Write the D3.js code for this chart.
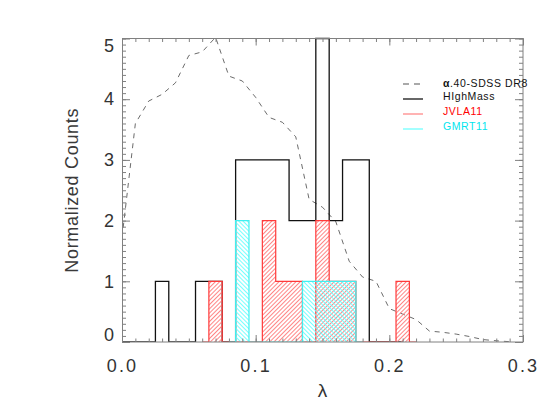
<!DOCTYPE html>
<html><head><meta charset="utf-8">
<script src="https://cdn.jsdelivr.net/npm/d3@7"></script>
<style>
html,body{margin:0;padding:0;background:#fff;}
svg{display:block;}
text{font-family:"Liberation Sans",Arial,sans-serif;}
</style></head>
<body>
<script>
// ---- data ----
const xTickValues = [0.0, 0.1, 0.2, 0.3];
const xTickLabels = ["0.0", "0.1", "0.2", "0.3"];
const yTickValues = [0, 1, 2, 3, 4, 5];
const yTickLabels = ["0", "1", "2", "3", "4", "5"];

const hmCenters = [0.00,0.01,0.02,0.03,0.04,0.05,0.06,0.07,0.08,0.09,0.10,0.11,0.12,0.13,0.14,0.15,0.16,0.17,0.18,0.19,0.20,0.21];
const hmCounts  = [0,0,0,1,0,0,1,1,0,3,3,3,3,2,2,5,2,3,3,0,0,0];

const jvCenters = [0.06,0.07,0.08,0.09,0.10,0.11,0.12,0.13,0.14,0.15,0.16,0.17,0.18,0.19,0.20,0.21,0.22];
const jvCounts  = [0,1,0,0,0,2,1,1,0,2,1,1,0,0,0,1,0];

const gmCenters = [0.08,0.09,0.10,0.11,0.12,0.13,0.14,0.15,0.16,0.17,0.18];
const gmCounts  = [0,2,0,0,0,0,1,1,1,1,0];

const alfaX = [0.00,0.01,0.02,0.03,0.04,0.05,0.06,0.07,0.08,0.09,0.10,0.11,0.12,0.13,0.14,0.15,0.16,0.17,0.18,0.19,0.20,0.21,0.22,0.23,0.24,0.25,0.26,0.27,0.28,0.29];
const alfaY = [1.72,3.60,3.97,4.08,4.27,4.72,4.78,5.02,4.38,4.30,4.03,3.70,3.62,3.38,2.35,2.22,1.98,1.33,1.07,1.00,0.55,0.46,0.37,0.18,0.16,0.13,0.09,0.04,0.02,0.005];

const legendLabels = ["\u03b1.40-SDSS DR8", "HIghMass", "JVLA11", "GMRT11"];

// ---- layout ----
const W = 560, H = 420;
const L = 122, R = 523, T = 38.5, B = 342;

const svg = d3.select("body").append("svg").attr("width", W).attr("height", H);
svg.append("rect").attr("width", W).attr("height", H).attr("fill", "#fff");

const x = d3.scaleLinear().domain([0, 0.3]).range([L, R]);
const y = d3.scaleLinear().domain([0, 5]).range([B, T]);

const defs = svg.append("defs");
defs.append("clipPath").attr("id", "plotclip").append("rect")
  .attr("x", L).attr("y", T - 2).attr("width", R - L).attr("height", B - T + 2);

function hatch(id, angle, color, w) {
  const p = defs.append("pattern").attr("id", id).attr("patternUnits", "userSpaceOnUse")
    .attr("width", w).attr("height", w).attr("patternTransform", `rotate(${angle})`);
  p.append("line").attr("x1", 0.5).attr("y1", -1).attr("x2", 0.5).attr("y2", w + 1)
    .attr("stroke", color).attr("stroke-width", 0.9);
}
hatch("hatchRed", 45, "#ff7878", 3.0);
hatch("hatchCyan", -45, "#66ffff", 3.0);

const plot = svg.append("g").attr("clip-path", "url(#plotclip)");

// dashed alfalfa-sdss curve
const lineLin = d3.line().x((d) => x(d[0])).y((d) => y(d[1]));
plot.append("path").datum(alfaX.map((v, i) => [v, alfaY[i]]))
  .attr("d", lineLin).attr("fill", "none").attr("stroke", "#5a5a5a")
  .attr("stroke-width", 0.9).attr("stroke-dasharray", "5,5");

const stepLine = d3.line().curve(d3.curveStep).x((d) => x(d[0])).y((d) => y(d[1]));
const stepArea = d3.area().curve(d3.curveStep).x((d) => x(d[0])).y0(y(0)).y1((d) => y(d[1]));

// HIghMass
plot.append("path").datum(hmCenters.map((c, i) => [c, hmCounts[i]]))
  .attr("d", stepLine).attr("fill", "none").attr("stroke", "#111").attr("stroke-width", 1.3);

// JVLA11
const jv = jvCenters.map((c, i) => [c, jvCounts[i]]);
plot.append("path").datum(jv).attr("d", stepArea).attr("fill", "url(#hatchRed)");
plot.append("path").datum(jv).attr("d", stepLine).attr("fill", "none")
  .attr("stroke", "#ff3a3a").attr("stroke-width", 1.2);

// GMRT11
const gm = gmCenters.map((c, i) => [c, gmCounts[i]]);
plot.append("path").datum(gm).attr("d", stepArea).attr("fill", "url(#hatchCyan)");
plot.append("path").datum(gm).attr("d", stepLine).attr("fill", "none")
  .attr("stroke", "#40f0f0").attr("stroke-width", 1.2);

// ---- axes ----
const axisColor = "#808080";
const minorX = d3.range(0, 31).map((i) => i / 100);
const minorY = d3.range(0, 51).map((i) => i / 10);

function styleAxis(g) {
  g.select(".domain").remove();
  g.selectAll(".tick line").attr("stroke", axisColor);
  g.selectAll(".tick text").attr("fill", "#333").attr("font-size", 18)
    .attr("font-family", "'Liberation Sans', Arial, sans-serif");
}

// bottom
svg.append("g").attr("transform", `translate(0,${B})`)
  .call(d3.axisBottom(x).tickValues(minorX).tickSize(-3.5).tickFormat(""))
  .call(styleAxis);
svg.append("g").attr("transform", `translate(0,${B})`)
  .call(d3.axisBottom(x).tickValues(xTickValues).tickSize(-7).tickPadding(17)
    .tickFormat((d, i) => xTickLabels[i]))
  .call(styleAxis)
  .call((g) => g.selectAll(".tick text").attr("letter-spacing", 2.2));
// top
svg.append("g").attr("transform", `translate(0,${T})`)
  .call(d3.axisTop(x).tickValues(minorX).tickSize(-3.5).tickFormat("")).call(styleAxis);
svg.append("g").attr("transform", `translate(0,${T})`)
  .call(d3.axisTop(x).tickValues(xTickValues).tickSize(-7).tickFormat("")).call(styleAxis);
// left
svg.append("g").attr("transform", `translate(${L},0)`)
  .call(d3.axisLeft(y).tickValues(minorY).tickSize(-4).tickFormat("")).call(styleAxis);
svg.append("g").attr("transform", `translate(${L},0)`)
  .call(d3.axisLeft(y).tickValues(yTickValues).tickSize(-8).tickPadding(8)
    .tickFormat((d, i) => yTickLabels[i]))
  .call(styleAxis)
  .call((g) => g.selectAll(".tick text").attr("dy", (d) => d === 0 ? "-0.08em" : d === 5 ? "0.72em" : "0.32em"));
// right
svg.append("g").attr("transform", `translate(${R},0)`)
  .call(d3.axisRight(y).tickValues(minorY).tickSize(-4).tickFormat("")).call(styleAxis);
svg.append("g").attr("transform", `translate(${R},0)`)
  .call(d3.axisRight(y).tickValues(yTickValues).tickSize(-8).tickFormat("")).call(styleAxis);

// frame
svg.append("rect").attr("x", L + 0.5).attr("y", T).attr("width", R - L - 0.5).attr("height", B - T)
  .attr("fill", "none").attr("stroke", axisColor).attr("stroke-width", 1);

// axis titles
svg.append("text").attr("x", (L + R) / 2).attr("y", 397).attr("text-anchor", "middle")
  .attr("font-size", 19).attr("fill", "#333").text("\u03bb");
svg.append("text").attr("transform", `translate(78,${(T + B) / 2}) rotate(-90)`)
  .attr("text-anchor", "middle").attr("font-size", 18).attr("letter-spacing", 0.7)
  .attr("fill", "#3a3a3a").text("Normalized Counts");

// ---- legend ----
const legStyles = [
  { stroke: "#555", dash: "6,5", text: "#111" },
  { stroke: "#000", dash: null, text: "#111" },
  { stroke: "#ff8080", dash: null, text: "#ff0000" },
  { stroke: "#66ffff", dash: null, text: "#00e5ee" }
];
const leg = svg.append("g");
legendLabels.forEach((lab, i) => {
  const ly = 84 + 15 * i;
  const s = legStyles[i];
  leg.append("line").attr("x1", 403).attr("x2", 423).attr("y1", ly).attr("y2", ly)
    .attr("stroke", s.stroke).attr("stroke-width", 1.2)
    .attr("stroke-dasharray", s.dash);
  const t = leg.append("text").attr("x", 443).attr("y", ly + (i === 0 ? 2.5 : 0.5))
    .attr("font-size", 10.5).attr("letter-spacing", 0.6).attr("fill", s.text);
  if (i === 0) {
    t.append("tspan").attr("font-weight", "bold").text(lab.slice(0, 1));
    t.append("tspan").text(lab.slice(1));
  } else {
    t.text(lab);
  }
});
</script>
</body></html>
